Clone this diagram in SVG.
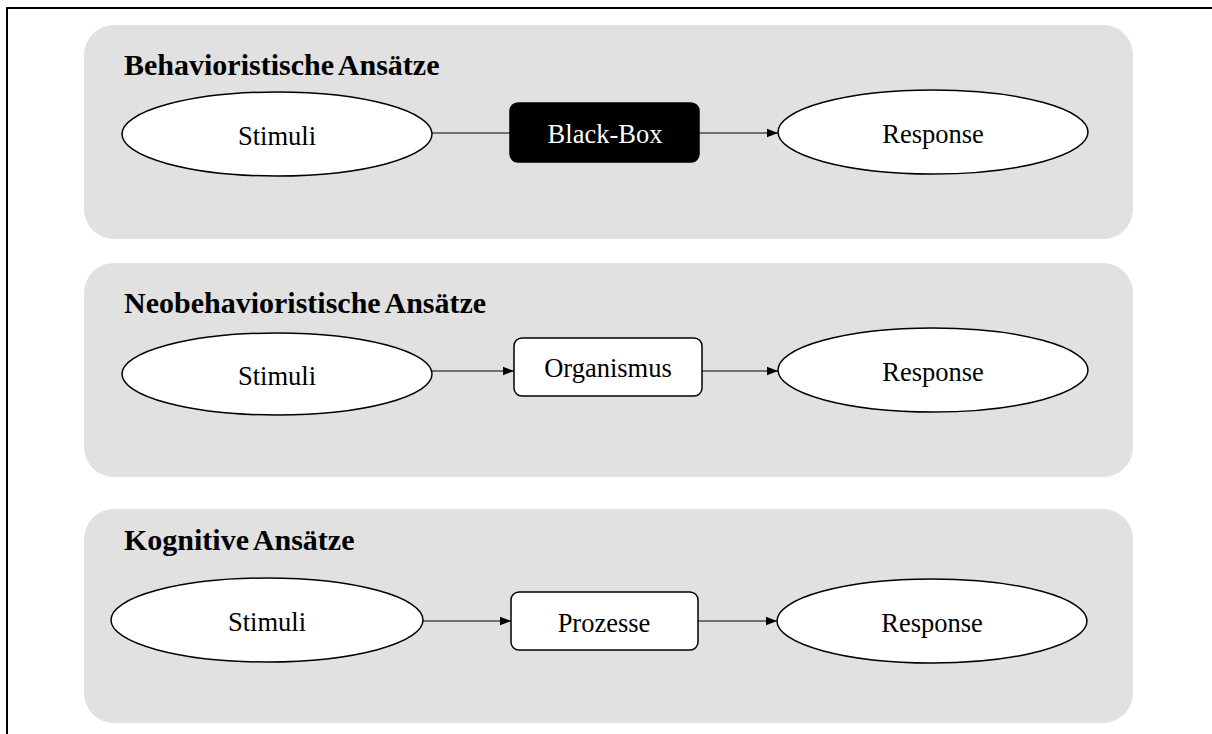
<svg xmlns="http://www.w3.org/2000/svg" width="1212" height="734" viewBox="0 0 1212 734">
  <defs>
    <marker id="arrow" viewBox="0 0 11 10" refX="11" refY="5" markerWidth="11" markerHeight="10" markerUnits="userSpaceOnUse" orient="auto">
      <path d="M0,0.8 L11,5 L0,9.2 Z" fill="#000"/>
    </marker>
  </defs>
  <style>
    .frame { stroke: #000; stroke-width: 2; fill: none; }
    .panel { fill: #e1e1e1; }
    .title { font-family: "Liberation Serif", "Times New Roman", serif; font-weight: bold; font-size: 30px; fill: #000; word-spacing: -2px; }
    .ell { fill: #fff; stroke: #000; stroke-width: 1.5; }
    .box { fill: #fff; stroke: #000; stroke-width: 1.5; }
    .box-dark { fill: #000; stroke: #000; stroke-width: 1.5; }
    .label { font-family: "Liberation Serif", "Times New Roman", serif; font-size: 26.5px; fill: #000; text-anchor: middle; }
    .label-light { fill: #fff; }
    .edge { stroke: #000; stroke-width: 1; fill: none; }
  </style>
  <rect width="1212" height="734" fill="#fff"/>
  <!-- frame: top and left rules -->
  <path class="frame" d="M7,734 L7,8 L1212,8"/>

  <!-- section panels -->
  <g id="panel-behavior">
    <rect class="panel" x="84" y="25" width="1049" height="214" rx="30"/>
    <text class="title" x="124" y="75">Behavioristische Ansätze</text>
  </g>
  <g id="panel-neobehavior">
    <rect class="panel" x="84" y="263" width="1049" height="214" rx="30"/>
    <text class="title" x="124" y="313">Neobehavioristische Ansätze</text>
  </g>
  <g id="panel-cognitive">
    <rect class="panel" x="84" y="509" width="1049" height="214" rx="30"/>
    <text class="title" x="124" y="550">Kognitive Ansätze</text>
  </g>

  <!-- connectors -->
  <g id="connectors">
    <line class="edge" x1="432" y1="133" x2="510" y2="133"/>
    <line class="edge" x1="699" y1="133" x2="778" y2="133" marker-end="url(#arrow)"/>
    <line class="edge" x1="432" y1="371" x2="514" y2="371" marker-end="url(#arrow)"/>
    <line class="edge" x1="702" y1="371" x2="778" y2="371" marker-end="url(#arrow)"/>
    <line class="edge" x1="423" y1="621" x2="511" y2="621" marker-end="url(#arrow)"/>
    <line class="edge" x1="698" y1="621" x2="777" y2="621" marker-end="url(#arrow)"/>
  </g>

  <!-- row 1 -->
  <g id="stimuli-1">
    <ellipse class="ell" cx="277" cy="134" rx="155" ry="42"/>
    <text class="label" x="277" y="145">Stimuli</text>
  </g>
  <g id="blackbox">
    <rect class="box-dark" x="510" y="103" width="189" height="59" rx="8"/>
    <text class="label label-light" x="605" y="143">Black-Box</text>
  </g>
  <g id="response-1">
    <ellipse class="ell" cx="933" cy="132" rx="155" ry="42"/>
    <text class="label" x="933" y="143">Response</text>
  </g>

  <!-- row 2 -->
  <g id="stimuli-2">
    <ellipse class="ell" cx="277" cy="374" rx="155" ry="41"/>
    <text class="label" x="277" y="385">Stimuli</text>
  </g>
  <g id="organismus">
    <rect class="box" x="514" y="338" width="188" height="58" rx="8"/>
    <text class="label" x="608" y="377">Organismus</text>
  </g>
  <g id="response-2">
    <ellipse class="ell" cx="933" cy="370" rx="155" ry="42"/>
    <text class="label" x="933" y="381">Response</text>
  </g>

  <!-- row 3 -->
  <g id="stimuli-3">
    <ellipse class="ell" cx="267" cy="620" rx="156" ry="42"/>
    <text class="label" x="267" y="631">Stimuli</text>
  </g>
  <g id="prozesse">
    <rect class="box" x="511" y="592" width="187" height="58" rx="8"/>
    <text class="label" x="604" y="632">Prozesse</text>
  </g>
  <g id="response-3">
    <ellipse class="ell" cx="932" cy="621" rx="155" ry="42"/>
    <text class="label" x="932" y="632">Response</text>
  </g>
</svg>
